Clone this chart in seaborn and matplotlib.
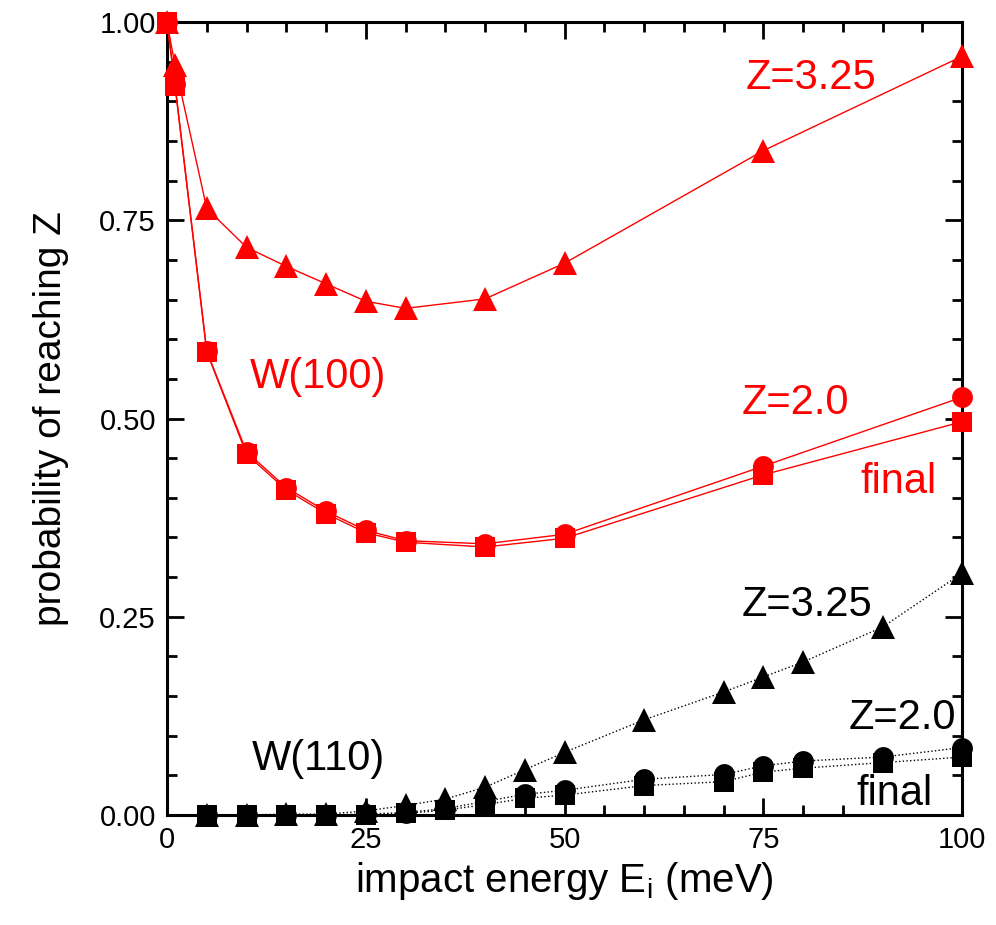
import matplotlib
matplotlib.use("Agg")
import matplotlib.pyplot as plt
import seaborn as sns
from matplotlib.ticker import MultipleLocator, FormatStrFormatter

sns.set_style("ticks")
plt.rcParams['font.family'] = ['Liberation Sans', 'DejaVu Sans']
plt.rcParams['text.color'] = 'black'
plt.rcParams['axes.labelcolor'] = 'black'
plt.rcParams['axes.edgecolor'] = 'black'
plt.rcParams['xtick.color'] = 'black'
plt.rcParams['ytick.color'] = 'black'

# --- W(100), red ---
e_100 = [0, 1, 5, 10, 15, 20, 25, 30, 40, 50, 75, 100]
p100_z325 = [1.0, 0.946, 0.765, 0.716, 0.692, 0.670, 0.648, 0.639, 0.651, 0.696, 0.838, 0.957]
p100_z20 = [1.0, 0.922, 0.585, 0.458, 0.413, 0.383, 0.359, 0.346, 0.342, 0.354, 0.440, 0.527]
p100_final = [1.0, 0.920, 0.584, 0.455, 0.410, 0.380, 0.356, 0.344, 0.338, 0.349, 0.429, 0.496]

# --- W(110), black ---
e_110 = [5, 10, 15, 20, 25, 30, 35, 40, 45, 50, 60, 70, 75, 80, 90, 100]
p110_z325 = [0.0, 0.0, 0.001, 0.001, 0.005, 0.012, 0.020, 0.035, 0.057, 0.079, 0.120, 0.155, 0.174, 0.193, 0.237, 0.305]
p110_z20 = [0.0, 0.0, 0.0, 0.0, 0.001, 0.003, 0.008, 0.017, 0.026, 0.031, 0.045, 0.051, 0.062, 0.068, 0.073, 0.085]
p110_final = [0.0, 0.0, 0.0, 0.0, 0.0, 0.002, 0.006, 0.013, 0.021, 0.025, 0.037, 0.042, 0.054, 0.059, 0.066, 0.073]

RED = '#ff0000'
MSIZE = {'s': 14, 'o': 15, '^': 17}

fig = plt.figure(figsize=(9.96, 9.25), dpi=100)
ax = fig.add_axes([0.1677, 0.119, 0.7983, 0.857])

series = [
    (e_100, p100_final, 's', RED, '-'),
    (e_100, p100_z20, 'o', RED, '-'),
    (e_100, p100_z325, '^', RED, '-'),
    (e_110, p110_final, 's', 'black', ':'),
    (e_110, p110_z20, 'o', 'black', ':'),
    (e_110, p110_z325, '^', 'black', ':'),
]
for xs, ys, mk, col, ls in series:
    sns.lineplot(x=xs, y=ys, ax=ax, marker=mk, markersize=MSIZE[mk],
                 color=col, linestyle=ls, linewidth=1.0, markeredgewidth=0,
                 sort=False, clip_on=False, zorder=3)

ax.set_xlim(0, 100)
ax.set_ylim(0, 1.0)
ax.xaxis.set_major_locator(MultipleLocator(25))
ax.xaxis.set_minor_locator(MultipleLocator(5))
ax.yaxis.set_major_locator(MultipleLocator(0.25))
ax.yaxis.set_minor_locator(MultipleLocator(0.05))
ax.yaxis.set_major_formatter(FormatStrFormatter('%.2f'))

for s in ax.spines.values():
    s.set_linewidth(2.2)
    s.set_visible(True)
ax.tick_params(which='both', direction='in', top=True, right=True, width=2.0)
ax.tick_params(which='major', length=12, labelsize=21, pad=8)
ax.tick_params(which='minor', length=7)

ax.set_xlabel('impact energy E$_\\mathregular{i}$ (meV)', fontsize=29, labelpad=4)
ax.set_ylabel('probability of reaching Z', fontsize=28, labelpad=22)

fs = 30
ax.text(81, 0.93, 'Z=3.25', color=RED, fontsize=fs, ha='center', va='center')
ax.text(19, 0.553, 'W(100)', color=RED, fontsize=fs, ha='center', va='center')
ax.text(79, 0.52, 'Z=2.0', color=RED, fontsize=fs, ha='center', va='center')
ax.text(92, 0.42, 'final', color=RED, fontsize=fs, ha='center', va='center')
ax.text(80.5, 0.265, 'Z=3.25', color='black', fontsize=fs, ha='center', va='center')
ax.text(92.5, 0.122, 'Z=2.0', color='black', fontsize=fs, ha='center', va='center')
ax.text(91.5, 0.027, 'final', color='black', fontsize=fs, ha='center', va='center',
        zorder=2, bbox=dict(facecolor='white', edgecolor='none', pad=1))
ax.text(19, 0.07, 'W(110)', color='black', fontsize=fs, ha='center', va='center')

fig.savefig('out.png', dpi=100)
